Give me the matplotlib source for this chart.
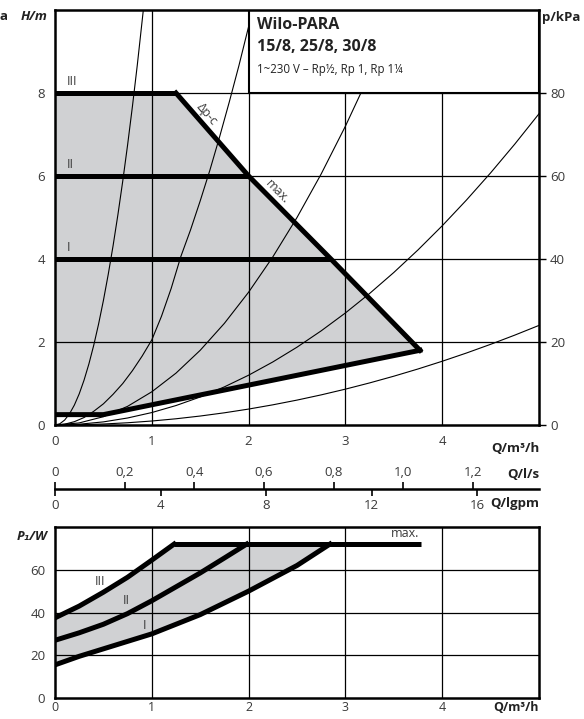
import matplotlib
matplotlib.use('Agg')
import matplotlib.pyplot as plt
from matplotlib.patches import Polygon, Rectangle

plt.rcParams['font.family'] = ['Open Sans', 'DejaVu Sans']

# ---------------- data ----------------
# Top chart: H/m vs Q/m3/h
stage_labels = ['III', 'II', 'I']
stage_heads = [8, 6, 4]
stage_q_end = [1.25, 2.0, 2.85]

max_curve_q = [1.25, 2.0, 2.85, 3.77]
max_curve_h = [8.0, 6.0, 4.0, 1.8]
min_curve_q = [0.0, 0.5, 3.77]
min_curve_h = [0.25, 0.25, 1.8]

sys1_q = [0, 0.05, 0.1, 0.15, 0.2, 0.25, 0.3, 0.35, 0.4, 0.45, 0.5, 0.55, 0.6, 0.65, 0.7, 0.75, 0.8, 0.85, 0.92]
sys1_h = [0, 0.03, 0.12, 0.27, 0.48, 0.75, 1.08, 1.47, 1.92, 2.43, 3.0, 3.63, 4.32, 5.07, 5.88, 6.75, 7.68, 8.67, 10.16]
sys2_q = [0, 0.1, 0.2, 0.3, 0.4, 0.5, 0.6, 0.7, 0.8, 0.9, 1.0, 1.1, 1.2, 1.3, 1.4, 1.5, 1.6, 1.7, 1.8, 1.9, 2.0, 2.05]
sys2_h = [0, 0.02, 0.08, 0.18, 0.33, 0.51, 0.74, 1.0, 1.31, 1.66, 2.05, 2.62, 3.29, 4.06, 4.7, 5.4, 6.14, 6.94, 7.78, 8.66, 9.6, 10.09]
sys3_q = [0, 0.25, 0.5, 0.75, 1.0, 1.25, 1.5, 1.75, 2.0, 2.25, 2.5, 2.75, 3.0, 3.25, 3.5, 3.55]
sys3_h = [0, 0.05, 0.2, 0.45, 0.8, 1.25, 1.8, 2.45, 3.2, 4.05, 5.0, 6.05, 7.2, 8.45, 9.8, 10.08]
sys4_q = [0, 0.25, 0.5, 0.75, 1.0, 1.25, 1.5, 1.75, 2.0, 2.25, 2.5, 2.75, 3.0, 3.25, 3.5, 3.75, 4.0, 4.25, 4.5, 4.75, 5.0]
sys4_h = [0, 0.019, 0.075, 0.169, 0.3, 0.469, 0.675, 0.919, 1.2, 1.519, 1.875, 2.269, 2.7, 3.169, 3.675, 4.219,
          4.8, 5.419, 6.075, 6.769, 7.5]
sys5_q = [0, 0.25, 0.5, 0.75, 1.0, 1.25, 1.5, 1.75, 2.0, 2.25, 2.5, 2.75, 3.0, 3.25, 3.5, 3.75, 4.0, 4.25, 4.5, 4.75, 5.0]
sys5_h = [0, 0.006, 0.024, 0.054, 0.096, 0.15, 0.216, 0.294, 0.384, 0.486, 0.6, 0.726, 0.864, 1.014, 1.176, 1.35,
          1.536, 1.734, 1.944, 2.166, 2.4]
sys_q = [sys1_q, sys2_q, sys3_q, sys4_q, sys5_q]
sys_h = [sys1_h, sys2_h, sys3_h, sys4_h, sys5_h]

h_ticks = [0, 2, 4, 6, 8]
kpa_ticks = [0, 20, 40, 60, 80]
q_ticks = [0, 1, 2, 3, 4]
ls_ticks = [0, 0.2, 0.4, 0.6, 0.8, 1.0, 1.2]
ls_labels = ['0', '0,2', '0,4', '0,6', '0,8', '1,0', '1,2']
gpm_ticks = [0, 4, 8, 12, 16]

# Bottom chart: P1/W vs Q/m3/h
p3_q = [0, 0.25, 0.5, 0.75, 1.0, 1.23]
p3_p = [37.5, 43, 49.5, 56.5, 64.5, 72]
p2_q = [0, 0.25, 0.5, 0.75, 1.0, 1.25, 1.5, 1.75, 1.98]
p2_p = [27, 30.5, 34.5, 39.5, 45.5, 52, 58.5, 65.5, 72]
p1_q = [0, 0.25, 0.5, 0.75, 1.0, 1.25, 1.5, 1.75, 2.0, 2.25, 2.5, 2.84]
p1_p = [15.5, 19.5, 23, 26.5, 30, 34.5, 39, 44.5, 50, 56, 62, 72]
pmax_q = [1.23, 3.78]
pmax_p = [72, 72]
p_ticks = [0, 20, 40, 60]

# ---------------- layout ----------------
W, H = 584, 719
def fx(px):
    return px / W
def fy(py):
    return 1 - py / H

fig = plt.figure(figsize=(W / 100, H / 100), dpi=100)
fig.patch.set_facecolor('white')

GRAY = '#d0d1d3'
TXT = '#3a3a3a'
THICK = 3.6
SPW = 1.8

x0, x1 = 55, 539
ax = fig.add_axes([fx(x0), fy(425), fx(x1) - fx(x0), fy(10) - fy(425)])
ax.set_xlim(0, 5)
ax.set_ylim(0, 10)
for q in q_ticks[1:]:
    ax.axvline(q, color='black', lw=0.9, zorder=3)
for h in h_ticks[1:]:
    ax.axhline(h, color='black', lw=0.9, zorder=3)

poly = [(0, min_curve_h[0]), (0, stage_heads[0])] + list(zip(max_curve_q, max_curve_h)) \
    + list(zip(min_curve_q[::-1], min_curve_h[::-1]))
ax.add_patch(Polygon(poly, closed=True, facecolor=GRAY, edgecolor='none', zorder=1))

for q, h in zip(sys_q, sys_h):
    ax.plot(q, h, color='black', lw=0.8, zorder=4)

# thick curves
for lab, hh, qe in zip(stage_labels, stage_heads, stage_q_end):
    ax.plot([0, qe], [hh, hh], color='black', lw=THICK, solid_capstyle='butt', zorder=6)
    ax.text(0.12, hh + 0.12, lab, fontsize=9, color=TXT, ha='left', va='bottom', zorder=7)
ax.plot(max_curve_q, max_curve_h, color='black', lw=THICK, solid_joinstyle='miter', zorder=6)
ax.plot(min_curve_q, min_curve_h, color='black', lw=THICK, solid_joinstyle='miter', zorder=6)

ax.text(1.57, 7.5, 'Δp-c', fontsize=9, color=TXT, rotation=-49, ha='center', va='center', zorder=7)
ax.text(2.3, 5.62, 'max.', fontsize=9, color=TXT, rotation=-46, ha='center', va='center', zorder=7)

# title box
ax.add_patch(Rectangle((2.0, 8.0), 3.0, 2.0, facecolor='white', edgecolor='black', lw=1.5, zorder=8))
fig.text(fx(257), fy(25), 'Wilo-PARA', fontsize=11.5, fontweight='bold', color='#222222', va='center')
fig.text(fx(257), fy(47), '15/8, 25/8, 30/8', fontsize=11.5, fontweight='bold', color='#222222', va='center')
fig.text(fx(257), fy(69), '1~230 V – Rp½, Rp 1, Rp 1¼', fontsize=8.3, color='#222222', va='center')

for s in ax.spines.values():
    s.set_linewidth(SPW)
    s.set_zorder(9)
ax.set_xticks(q_ticks)
ax.set_xticklabels([str(v) for v in q_ticks])
ax.set_yticks(h_ticks)
ax.set_yticklabels([str(v) for v in h_ticks])
ax.tick_params(axis='both', length=0, labelsize=9.5, labelcolor=TXT, pad=7)

axr = ax.twinx()
axr.set_ylim(0, 100)
axr.set_yticks(kpa_ticks)
axr.set_yticklabels([str(v) for v in kpa_ticks])
axr.tick_params(axis='y', length=5, width=1, labelsize=9.5, labelcolor=TXT, pad=3, direction='out')
for s in axr.spines.values():
    s.set_visible(False)

fig.text(fx(48), fy(17), 'H/m', fontsize=9.5, fontweight='bold', style='italic', color='#222222', ha='right', va='center')
fig.text(fx(7), fy(17), 'a', fontsize=9.5, fontweight='bold', color='#222222', ha='right', va='center')
fig.text(fx(542), fy(17), 'p/kPa', fontsize=9.5, fontweight='bold', color='#222222', ha='left', va='center')
ax.text(5.0, -0.42, 'Q/m³/h', transform=ax.transData, fontsize=9.5, fontweight='bold', color='#222222',
        ha='right', va='top')

# secondary flow scales
yl = fy(489)
ax_ls = fig.add_axes([fx(x0), yl, fx(x1) - fx(x0), 1e-4])
ax_ls.set_xlim(0, 5 / 3.6)
ax_ls.patch.set_visible(False)
for k, s in ax_ls.spines.items():
    s.set_visible(k == 'bottom')
ax_ls.spines['bottom'].set_linewidth(SPW)
ax_ls.set_yticks([])
ax_ls.xaxis.set_ticks_position('top')
ax_ls.xaxis.set_label_position('top')
ax_ls.set_xticks(ls_ticks)
ax_ls.set_xticklabels(ls_labels)
ax_ls.tick_params(axis='x', direction='out', length=5, width=1.2, labelsize=9.5, labelcolor=TXT, pad=2)

ax_g = fig.add_axes([fx(x0), yl, fx(x1) - fx(x0), 1e-4])
ax_g.set_xlim(0, 5 / 0.272765)
ax_g.patch.set_visible(False)
for s in ax_g.spines.values():
    s.set_visible(False)
ax_g.set_yticks([])
ax_g.set_xticks(gpm_ticks)
ax_g.set_xticklabels([str(v) for v in gpm_ticks])
ax_g.tick_params(axis='x', direction='out', length=5, width=1.2, labelsize=9.5, labelcolor=TXT, pad=2)

fig.text(fx(539), fy(475), 'Q/l/s', fontsize=9.5, fontweight='bold', color='#222222', ha='right', va='center')
fig.text(fx(539), fy(503), 'Q/lgpm', fontsize=9.5, fontweight='bold', color='#222222', ha='right', va='center')

# bottom chart
axb = fig.add_axes([fx(x0), fy(698), fx(x1) - fx(x0), fy(527) - fy(698)])
axb.set_xlim(0, 5)
axb.set_ylim(0, 80)
for q in q_ticks[1:]:
    axb.axvline(q, color='black', lw=0.9, zorder=3)
for p in p_ticks[1:]:
    axb.axhline(p, color='black', lw=0.9, zorder=3)

bpoly = list(zip(p3_q, p3_p)) + [(p1_q[-1], p1_p[-1])] + list(zip(p1_q[::-1], p1_p[::-1]))
axb.add_patch(Polygon(bpoly, closed=True, facecolor=GRAY, edgecolor='none', zorder=1))
axb.plot(p3_q, p3_p, color='black', lw=THICK, zorder=6)
axb.plot(p2_q, p2_p, color='black', lw=THICK, zorder=6)
axb.plot(p1_q, p1_p, color='black', lw=THICK, zorder=6)
axb.plot(pmax_q, pmax_p, color='black', lw=THICK, zorder=6, solid_capstyle='butt')
axb.text(0.47, 54.5, 'III', fontsize=9, color=TXT, ha='center', va='center', zorder=7)
axb.text(0.74, 45.5, 'II', fontsize=9, color=TXT, ha='center', va='center', zorder=7)
axb.text(0.92, 34, 'I', fontsize=9, color=TXT, ha='center', va='center', zorder=7)
axb.text(3.62, 74, 'max.', fontsize=9, color=TXT, ha='center', va='bottom', zorder=7)

for s in axb.spines.values():
    s.set_linewidth(SPW)
    s.set_zorder(9)
axb.set_xticks(q_ticks)
axb.set_xticklabels([str(v) for v in q_ticks])
axb.set_yticks(p_ticks)
axb.set_yticklabels([str(v) for v in p_ticks])
axb.tick_params(axis='y', length=0, labelsize=9.5, labelcolor=TXT, pad=7)
axb.tick_params(axis='x', length=0, labelsize=9, labelcolor=TXT, pad=2)
fig.text(fx(48), fy(537), 'P₁/W', fontsize=9.5, fontweight='bold', style='italic', color='#222222', ha='right', va='center')
axb.text(5.0, -1.5, 'Q/m³/h', fontsize=9, fontweight='bold', color='#222222', ha='right', va='top')

fig.savefig('out.png', dpi=100, facecolor='white')
